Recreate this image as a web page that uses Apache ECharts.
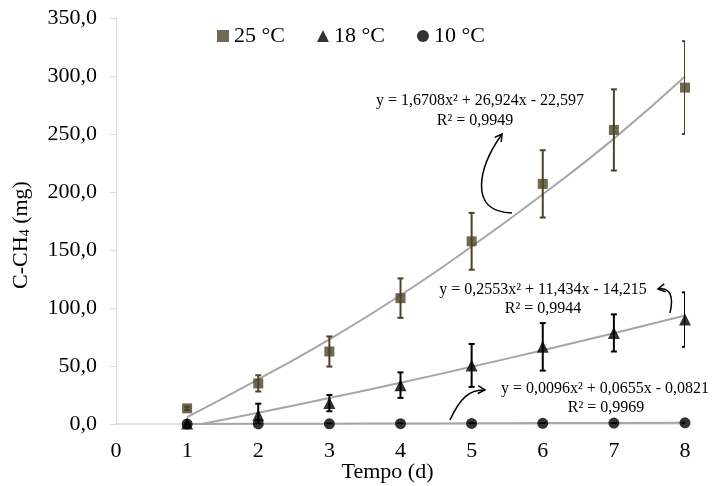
<!DOCTYPE html>
<html>
<head>
<meta charset="utf-8">
<script src="https://cdn.jsdelivr.net/npm/echarts@6/dist/echarts.min.js"></script>
<style>
  html, body { margin: 0; padding: 0; background: #fff; }
  #chart { width: 720px; height: 486px; }
</style>
</head>
<body>
<div id="chart"></div>
<script>
// Dati
const days = [1, 2, 3, 4, 5, 6, 7, 8];
const mean25 = [13.5, 35, 62.5, 108.5, 157.5, 207, 253.5, 290];
const sd25 = [1.5, 7, 13, 17, 24.5, 29, 35, 40];
const mean18 = [0.5, 7.5, 18, 33.5, 50.5, 66.5, 78.5, 90];
const sd18 = [0.5, 10, 7, 11, 18.5, 20.5, 16, 23.5];
const mean10 = [0, 0.1, 0.2, 0.3, 0.5, 0.6, 0.8, 1.0];
const sd10 = [0, 0, 0, 0, 0, 0, 0, 0];
// linee di tendenza lette in corrispondenza dei giorni
const trend25 = [6, 38.5, 73, 111, 153, 198, 246, 299.5];
const trend18 = [-2.5, 9.7, 22.4, 35.6, 49.3, 63.6, 78.3, 93.6];
const trend10 = [0, 0.2, 0.3, 0.4, 0.6, 0.8, 0.9, 1.1];
const seriesNames = ['25 °C', '18 °C', '10 °C'];
const equations = [
  ['y = 1,6708x² + 26,924x - 22,597', 'R² = 0,9949'],
  ['y = 0,2553x² + 11,434x - 14,215', 'R² = 0,9944'],
  ['y = 0,0096x² + 0,0655x - 0,0821', 'R² = 0,9969']
];

const FONT = '"Liberation Serif", "Times New Roman", serif';
const OLIVE = '#4a4328';

const pairs = arr => days.map((d, i) => [d, arr[i]]);

// Funzione per le barre di errore
function errorSeries(vals, sds, color) {
  return {
    type: 'custom',
    silent: true,
    clip: true,
    z: 3,
    data: days.map((d, i) => [d, vals[i] - sds[i], vals[i] + sds[i]]),
    renderItem: (params, api) => {
      const lo = api.coord([api.value(0), api.value(1)]);
      const hi = api.coord([api.value(0), api.value(2)]);
      const w = 3;
      const st = { stroke: color, lineWidth: 2 };
      return {
        type: 'group',
        children: [
          { type: 'line', shape: { x1: lo[0], y1: lo[1], x2: hi[0], y2: hi[1] }, style: st },
          { type: 'line', shape: { x1: hi[0] - w, y1: hi[1], x2: hi[0] + w, y2: hi[1] }, style: st },
          { type: 'line', shape: { x1: lo[0] - w, y1: lo[1], x2: lo[0] + w, y2: lo[1] }, style: st }
        ]
      };
    }
  };
}

function trendSeries(vals) {
  return {
    type: 'line',
    data: pairs(vals),
    smooth: true,
    showSymbol: false,
    silent: true,
    z: 2,
    lineStyle: { color: '#a6a6a6', width: 2 }
  };
}

function pointSeries(name, vals, symbol, size, color) {
  return {
    name,
    type: 'scatter',
    data: pairs(vals),
    symbol,
    symbolSize: size,
    itemStyle: { color },
    z: 4
  };
}

// Freccia curva con punta aperta
function arrow(p0, c1, c2, p1) {
  const ang = Math.atan2(p1[1] - c2[1], p1[0] - c2[0]);
  const L = 7, W = 4;
  const bx = p1[0] - L * Math.cos(ang), by = p1[1] - L * Math.sin(ang);
  const nx = -Math.sin(ang) * W, ny = Math.cos(ang) * W;
  return [
    {
      type: 'bezierCurve',
      shape: { x1: p0[0], y1: p0[1], cpx1: c1[0], cpy1: c1[1], cpx2: c2[0], cpy2: c2[1], x2: p1[0], y2: p1[1] },
      style: { stroke: '#000', lineWidth: 1.5, fill: null }
    },
    {
      type: 'polyline',
      shape: { points: [[bx + nx, by + ny], p1, [bx - nx, by - ny]] },
      style: { stroke: '#000', lineWidth: 1.5, fill: null }
    }
  ];
}

function eqText(lines, cx1, y1, cx2, y2) {
  const st = { fontFamily: FONT, fontSize: 16, fill: '#000', textAlign: 'center', textVerticalAlign: 'middle' };
  return [
    { type: 'text', x: cx1, y: y1, style: { ...st, text: lines[0] } },
    { type: 'text', x: cx2, y: y2, style: { ...st, text: lines[1] } }
  ];
}

const chart = echarts.init(document.getElementById('chart'));
chart.setOption({
  animation: false,
  textStyle: { fontFamily: FONT },
  grid: { left: 116, right: 35, top: 18, bottom: 62, containLabel: false, outerBoundsMode: 'none' },
  legend: {
    data: seriesNames,
    left: 212,
    top: 20,
    itemGap: 32,
    itemWidth: 12,
    itemHeight: 12,
    textStyle: { fontFamily: FONT, fontSize: 22, color: '#000' }
  },
  xAxis: {
    type: 'value',
    min: 0,
    max: 8,
    interval: 1,
    name: 'Tempo (d)',
    nameLocation: 'middle',
    nameGap: 37,
    nameMoveOverlap: false,
    nameTextStyle: { fontFamily: FONT, fontSize: 22, color: '#000', padding: [0, 26, 0, 0] },
    axisLine: { show: true, lineStyle: { color: '#d9d9d9', width: 1.5 } },
    axisTick: { show: false },
    axisLabel: { fontFamily: FONT, fontSize: 22, color: '#000', margin: 16 },
    splitLine: { show: false }
  },
  yAxis: {
    type: 'value',
    min: 0,
    max: 350,
    interval: 50,
    name: 'C-CH{sub|4} (mg)',
    nameLocation: 'middle',
    nameGap: 84,
    nameRotate: 90,
    nameMoveOverlap: false,
    nameTextStyle: {
      fontFamily: FONT, fontSize: 22, color: '#000',
      padding: [0, 28, 0, 0],
      rich: { sub: { fontFamily: FONT, fontSize: 14, color: '#000', verticalAlign: 'bottom', padding: [8, 0, 0, 0] } }
    },
    axisLine: { show: true, lineStyle: { color: '#d9d9d9' } },
    axisTick: { show: true, inside: false, length: 6, lineStyle: { color: '#d9d9d9' } },
    axisLabel: {
      fontFamily: FONT, fontSize: 22, color: '#000', margin: 19,
      formatter: v => v.toFixed(1).replace('.', ',')
    },
    splitLine: { show: false }
  },
  series: [
    trendSeries(trend25),
    trendSeries(trend18),
    trendSeries(trend10),
    errorSeries(mean25, sd25, OLIVE),
    errorSeries(mean18, sd18, '#000'),
    errorSeries(mean10, sd10, '#000'),
    pointSeries(seriesNames[0], mean25, 'rect', 10, OLIVE),
    pointSeries(seriesNames[1], mean18, 'triangle', 12, '#000'),
    pointSeries(seriesNames[2], mean10, 'circle', 11, '#000')
  ],
  graphic: [
    ...eqText(equations[0], 480, 101, 475, 121),
    ...eqText(equations[1], 543, 290, 543, 309),
    ...eqText(equations[2], 605, 389, 606, 408),
    ...arrow([512, 213], [468, 212], [478, 168], [502, 134]),
    ...arrow([670, 313], [674, 296], [670, 287], [658, 289]),
    ...arrow([450, 420], [460, 398], [470, 389], [485, 390])
  ]
});
</script>
</body>
</html>
